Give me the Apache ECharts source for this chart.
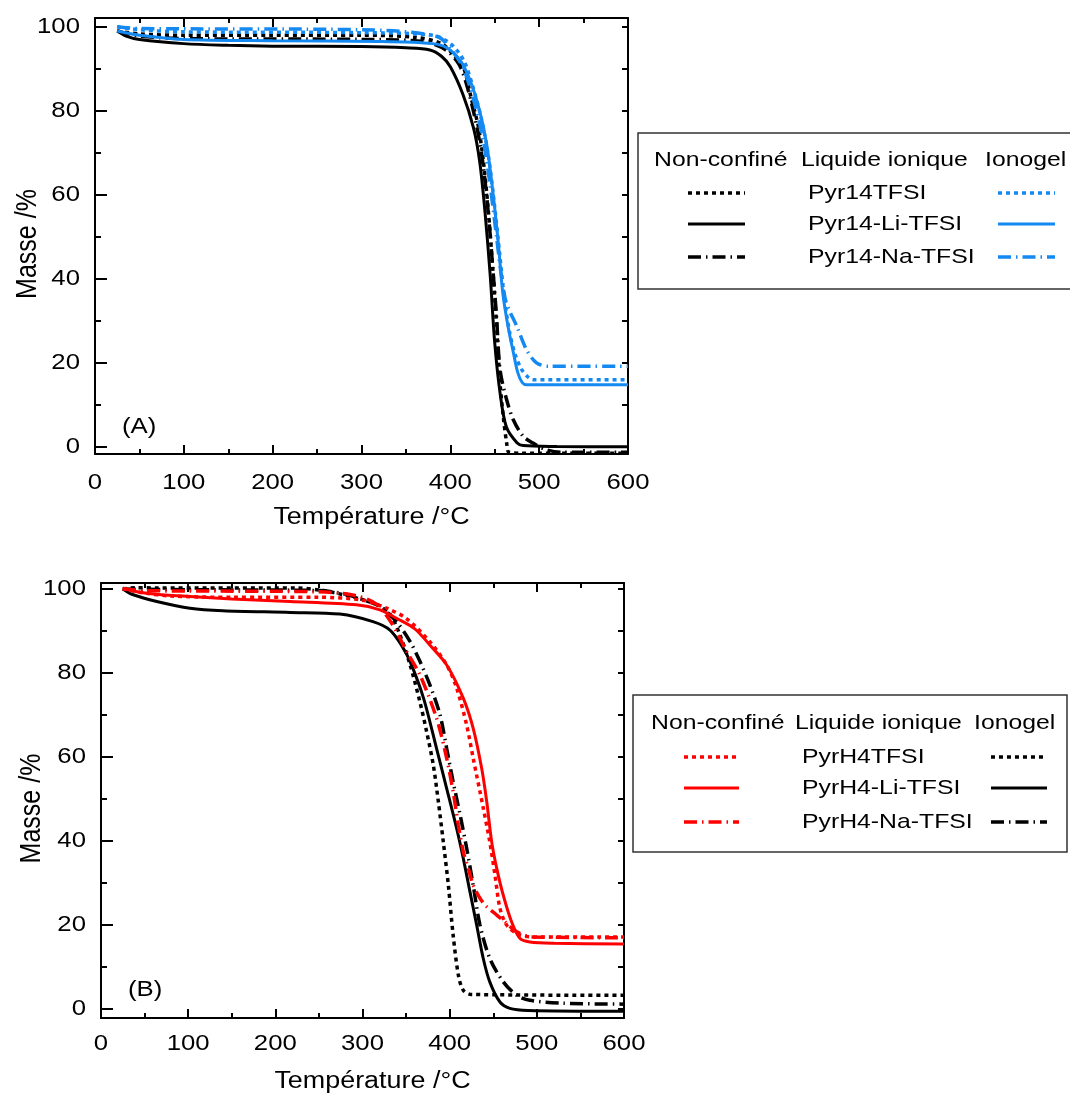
<!DOCTYPE html>
<html><head><meta charset="utf-8">
<script src="https://cdn.jsdelivr.net/npm/echarts@6/dist/echarts.min.js"></script>
<style>html,body{margin:0;padding:0;background:#fff}#c{width:1070px;height:1093px}</style>
</head><body><div id="c"></div>
<script>
// ---------- tick labels / categories ----------
const xTickLabels = [0, 100, 200, 300, 400, 500, 600];
const yTickLabels = [0, 20, 40, 60, 80, 100];
const yMinorTicks = [10, 30, 50, 70, 90];
const yRightTicks = [0, 10, 20, 30, 40, 50, 60, 70, 80, 90, 100];
const legendHeaders = ['Non-confiné', 'Liquide ionique', 'Ionogel'];
const namesA = ['Pyr14TFSI', 'Pyr14-Li-TFSI', 'Pyr14-Na-TFSI'];
const namesB = ['PyrH4TFSI', 'PyrH4-Li-TFSI', 'PyrH4-Na-TFSI'];
const xTitle = 'Température /°C';
const yTitle = 'Masse /%';
const panelLabels = ['(A)', '(B)'];

// ---------- Panel A : [temperature °C, mass %] ----------
const A_nc_TFSI = [[25,99],[50,98.3],[100,98],[200,98],[300,98],[360,97.5],[390,96],[405,93],[414.6,90.5],[424,82.6],[431.5,76.3],[437,68.3],[442.7,56.4],[448.4,40.5],[452.2,28.6],[456,15.2],[459.6,7.2],[463.4,0.9],[466,-1.3],[480,-1.5],[600,-1.5]];
const A_nc_Li = [[25,99],[35,97.8],[50,97],[100,96],[150,95.6],[200,95.4],[300,95.3],[350,95],[377,94.5],[390,93],[400,90.5],[414,84],[426,76],[433,68],[439,56],[445,40.5],[450,24.7],[456,12.8],[463,4.8],[475,1],[482,0.3],[520,0.1],[600,0]];
const A_nc_Na = [[25,99],[50,97.8],[100,97.2],[300,97],[370,96.5],[395,94.5],[410,91],[420,85],[430,76],[437,67],[443,55],[448,42],[452,31],[456,18.3],[463.4,11.2],[471,6.4],[482,2.5],[493,0.9],[508,-0.7],[525,-1.3],[600,-1.3]];
const A_io_TFSI = [[25,100],[50,99.3],[100,98.8],[300,98.6],[380,98],[400,96],[415,92],[425,86],[435,78],[443,69],[450,57],[456,45],[461,35],[467,27],[473,22],[480,18.5],[487,16.7],[493,16],[600,16]];
const A_io_Li = [[25,99],[50,98],[100,97],[200,96.7],[320,96.5],[380,96],[396,95],[411,92],[422,87.4],[433,80],[441,72],[448,60.5],[454,48.5],[459,36.7],[465,28.6],[471,22.4],[476,17.6],[481,15.3],[486,14.8],[600,14.8]];
const A_io_Na = [[25,100],[50,99.6],[300,99.3],[385,97.7],[403,94],[415,90],[427,82],[437,73],[445,62],[452,50],[458,40],[463,34.3],[475,28.6],[486,23],[497,20],[510,19.2],[600,19.2]];

// ---------- Panel B ----------
const B_nc_TFSI = [[25,100],[50,99],[80,98.3],[150,98],[250,98],[300,97.3],[327.7,95.4],[350,93],[377,87.5],[396.6,81.9],[408,76.4],[419.5,67.6],[427,59.7],[438.6,47.8],[446,39.8],[452,31.9],[457.7,24],[465.4,20],[477,18],[492,17.2],[600,17.2]];
const B_nc_Li = [[25,100.2],[40,99.4],[60,98.8],[102,98.2],[150,97.6],[217,97],[293,96.2],[320,95],[339,93],[360,90.5],[377,86.7],[396.6,81.9],[415.6,74],[427,66.8],[436.7,57.3],[442.5,49.4],[448.2,39.8],[454,33.5],[461.5,27.1],[471,20.8],[480.7,16.8],[492,16],[520,15.7],[600,15.5]];
const B_nc_Na = [[25,100],[50,99.6],[100,99.5],[250,99.3],[290,98.5],[315,96.5],[333,92],[350.7,85.1],[366,79.5],[385,69.2],[396.6,59.7],[404,51.7],[410,43.8],[415.6,37.5],[421.4,33.5],[427,29.5],[434.8,26.4],[442.5,24.4],[454,22.4],[463.5,20.8],[477,18.4],[495,17.2],[600,17]];
const B_io_TFSI = [[25,100],[40,100.3],[64,100.2],[224,100.2],[255,99.6],[278,98.6],[301,97.4],[316,96.4],[331.5,94],[343,89],[354.5,82],[366,73],[373.6,66],[381.3,58],[387,49.4],[392.7,39.8],[398.5,29.5],[404,17.6],[410,8.1],[415.6,4.5],[425,3.5],[600,3.3]];
const B_io_Li = [[25,100],[37,98.6],[64,97],[102,95.4],[140,94.8],[217,94.4],[274,94],[312,92.2],[331.5,90.2],[345,86.5],[355,82.5],[370,74],[385,62],[396.6,52.5],[408,43],[415.6,35.9],[423.3,27.9],[431,20],[438.6,12],[446,6.5],[457.7,1.7],[469,0.2],[490,-0.3],[600,-0.5]];
const B_io_Na = [[25,100],[50,99.9],[100,99.8],[250,99.6],[280,98.8],[301,97.4],[320,95.8],[339,92.2],[354.5,87.5],[366,82.7],[377.4,77.1],[389,70],[396.6,62],[404,54.1],[412,46.2],[419.5,38.3],[427,29.5],[434.8,20],[446,12.1],[461.5,6.5],[477,3.3],[492,2.1],[530,1.4],[600,1.2]];

// ---------- styles ----------
const FONT = '"Liberation Sans", Arial, sans-serif';
const SX = 1.17; // horizontal stretch of text in the original figure
const BLACK = '#000000', BLUE = '#1589f2', RED = '#ff0000';
const DOT = [4, 4], DASHDOT = [13, 5, 1.5, 5];
const styleOf = (kind) => kind === 'dot' ? {type: DOT, width: 3.5} : kind === 'dashdot' ? {type: DASHDOT, width: 3.5} : {type: 'solid', width: 3};

const chart = echarts.init(document.getElementById('c'), null, {renderer: 'canvas'});

const grids = [
  {left: 95, top: 18, width: 533, height: 436},
  {left: 101, top: 583, width: 523, height: 435}
];
const yRanges = [[-1.7, 102.1], [-2.1, 101.4]];

const xAxes = [], yAxes = [];
const axLine = {show: true, onZero: false, lineStyle: {color: BLACK, width: 2}};
grids.forEach((g, gi) => {
  const xCommon = {type: 'value', gridIndex: gi, min: 0, max: 600, interval: 100, splitLine: {show: false},
    axisLine: axLine, axisTick: {inside: true, length: 9, lineStyle: {color: BLACK, width: 2}},
    minorTick: {show: true, splitNumber: 2, length: 5, lineStyle: {color: BLACK, width: 2}},
    axisLabel: {show: false}};
  xAxes.push(Object.assign({}, xCommon, {position: 'bottom'}));
  xAxes.push(Object.assign({}, xCommon, {position: 'top'}));
  const [ymin, ymax] = yRanges[gi];
  yAxes.push({type: 'value', gridIndex: gi, min: ymin, max: ymax, position: 'left', splitLine: {show: false},
    axisLine: axLine, axisTick: {inside: true, length: 12, customValues: yTickLabels, lineStyle: {color: BLACK, width: 2}},
    axisLabel: {show: false}});
  yAxes.push({type: 'value', gridIndex: gi, min: ymin, max: ymax, position: 'left', splitLine: {show: false},
    axisLine: {show: false}, axisTick: {inside: true, length: 6, customValues: yMinorTicks, lineStyle: {color: BLACK, width: 2}},
    axisLabel: {show: false}});
  yAxes.push({type: 'value', gridIndex: gi, min: ymin, max: ymax, position: 'right', splitLine: {show: false},
    axisLine: axLine, axisTick: {inside: true, length: 6, customValues: yRightTicks, lineStyle: {color: BLACK, width: 2}},
    axisLabel: {show: false}});
});

const seriesDefs = [
  [0, A_nc_Na, BLACK, 'dashdot'], [0, A_nc_TFSI, BLACK, 'dot'], [0, A_nc_Li, BLACK, 'solid'],
  [0, A_io_Na, BLUE, 'dashdot'], [0, A_io_TFSI, BLUE, 'dot'], [0, A_io_Li, BLUE, 'solid'],
  [1, B_io_Na, BLACK, 'dashdot'], [1, B_io_TFSI, BLACK, 'dot'], [1, B_io_Li, BLACK, 'solid'],
  [1, B_nc_Na, RED, 'dashdot'], [1, B_nc_TFSI, RED, 'dot'], [1, B_nc_Li, RED, 'solid']
];
const series = seriesDefs.map(([p, data, color, kind]) => ({
  type: 'line', xAxisIndex: p * 2, yAxisIndex: p * 3, data: data, showSymbol: false, symbol: 'none',
  smooth: 0.3, clip: true, animation: false,
  lineStyle: Object.assign({color: color}, styleOf(kind))
}));

chart.setOption({
  animation: false,
  backgroundColor: '#ffffff',
  grid: grids,
  xAxis: xAxes,
  yAxis: yAxes,
  series: series
});

// ---------- texts (tick labels placed through the axes' own scales) ----------
function txt(s, x, y, size, align, extra) {
  return Object.assign({type: 'text', x: x, y: y, z: 11, scaleX: SX,
    style: {text: s, font: size + 'px ' + FONT, fill: BLACK, align: align || 'left', verticalAlign: 'middle'}}, extra || {});
}
const graphics = [];
const xLabelDy = [29, 26];
const yTitleX = [28, 32];
grids.forEach((g, gi) => {
  const [ymin] = yRanges[gi];
  const yBase = chart.convertToPixel({yAxisIndex: gi * 3}, ymin);
  xTickLabels.forEach(v => {
    const px = chart.convertToPixel({xAxisIndex: gi * 2}, v);
    graphics.push(txt(String(v), px, yBase + xLabelDy[gi], 22, 'center'));
  });
  yTickLabels.forEach(v => {
    const py = chart.convertToPixel({yAxisIndex: gi * 3}, v);
    graphics.push(txt(String(v), g.left - 15, py, 22, 'right'));
  });
  graphics.push(txt(xTitle, g.left + g.width / 2 + 10, yBase + 64, 23, 'center'));
  graphics.push(Object.assign(txt(yTitle, yTitleX[gi], g.top + g.height / 2 + 8, 25, 'center'),
    {rotation: Math.PI / 2, scaleX: 1, scaleY: SX}));
  graphics.push(txt(panelLabels[gi], g.left + 27, yBase - (gi === 0 ? 27 : 28), 22, 'left'));
});

function legendBlock(box, headX, headY, rowY, leftX, rightX, nameX, names, leftColor, rightColor) {
  const els = [];
  els.push({type: 'rect', shape: box, style: {fill: '#fff', stroke: '#333', lineWidth: 1.5}, z: 10});
  legendHeaders.forEach((h, i) => els.push(txt(h, headX[i], headY, 21, 'left', {scaleX: 1.18})));
  const kinds = ['dot', 'solid', 'dashdot'];
  names.forEach((n, i) => {
    const y = rowY[i];
    els.push(txt(n, nameX, y, 21, 'left', {scaleX: 1.18}));
    const st = styleOf(kinds[i]);
    els.push({type: 'line', z: 11, shape: {x1: leftX[0], y1: y, x2: leftX[1], y2: y},
      style: {stroke: leftColor, lineWidth: st.width, lineDash: st.type === 'solid' ? null : st.type}});
    els.push({type: 'line', z: 11, shape: {x1: rightX[0], y1: y, x2: rightX[1], y2: y},
      style: {stroke: rightColor, lineWidth: st.width, lineDash: st.type === 'solid' ? null : st.type}});
  });
  return els;
}
graphics.push(...legendBlock({x: 638, y: 133, width: 433, height: 156}, [654, 801, 985], 160, [193, 224, 257], [688, 745], [998, 1055], 808, namesA, BLACK, BLUE));
graphics.push(...legendBlock({x: 633, y: 695, width: 434, height: 157}, [651, 795, 974], 723, [757, 788, 822], [684, 739], [991, 1047], 802, namesB, RED, BLACK));

chart.setOption({graphic: graphics});
</script>
</body></html>
